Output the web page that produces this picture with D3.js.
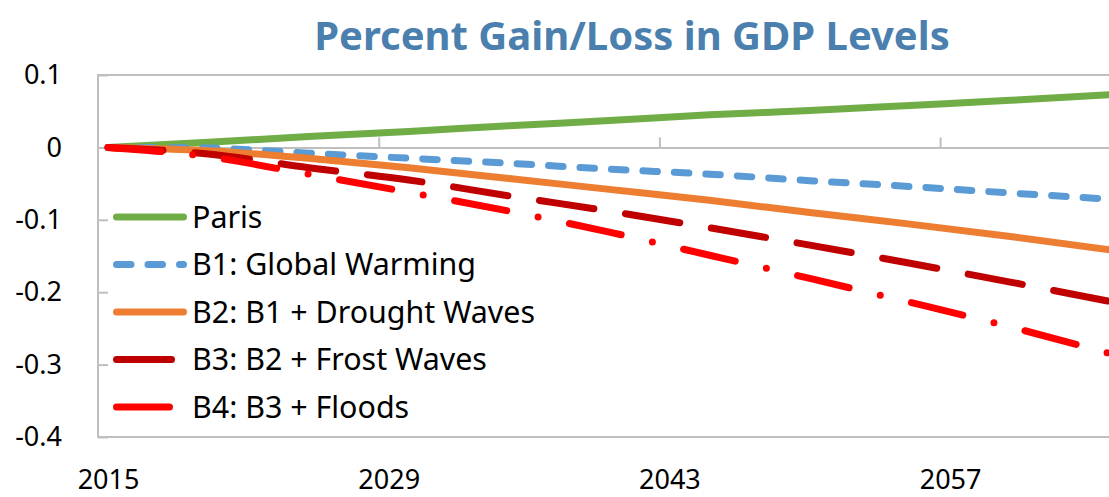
<!DOCTYPE html>
<html>
<head>
<meta charset="utf-8">
<script src="https://cdn.jsdelivr.net/npm/d3@7"></script>
<style>
  body { margin: 0; background: #fff; }
  text { font-family: "Noto Sans", "Open Sans", sans-serif; }
</style>
</head>
<body>
<svg id="chart" width="1109" height="497"></svg>
<script>
// values, every 5 years
const years = [2015, 2020, 2025, 2030, 2035, 2040, 2045, 2050, 2055, 2060, 2065];
const paris = [0, 0.007, 0.015, 0.022, 0.030, 0.037, 0.045, 0.051, 0.058, 0.065, 0.073];
const b1 = [0, -0.001, -0.008, -0.015, -0.022, -0.030, -0.037, -0.046, -0.054, -0.063, -0.0715];
const b2 = [0, -0.0045, -0.015, -0.028, -0.043, -0.058, -0.073, -0.090, -0.106, -0.123, -0.1416];
const b3 = [0, -0.009, -0.028, -0.045, -0.067, -0.088, -0.111, -0.135, -0.160, -0.186, -0.213];
const b4 = [0, -0.013, -0.037, -0.062, -0.088, -0.117, -0.149, -0.181, -0.214, -0.248, -0.285];

const seriesNames = ["Paris", "B1: Global Warming", "B2: B1 + Drought Waves", "B3: B2 + Frost Waves", "B4: B3 + Floods"];
const yTicks = [0.1, 0, -0.1, -0.2, -0.3, -0.4];
const xLabelYears = [2015, 2029, 2043, 2057];

const styles = [
  { color: "#70ad47", dash: null },
  { color: "#5b9bd5", dash: "14.5,17" },
  { color: "#ed7d31", dash: null },
  { color: "#c00000", dash: "55,32" },
  { color: "#ff0000", dash: "53,32,0,32" }
];
const series = [paris, b1, b2, b3, b4].map((vals, i) => ({
  name: seriesNames[i],
  style: styles[i],
  points: years.map((y, j) => ({ year: y, value: vals[j] }))
}));

const svg = d3.select("#chart");
const plotLeft = 98, plotTop = 75, plotBottom = 437;
const step = 20.05; // one category (year) wide
const firstYear = 2015, lastYear = 2065;

const x = d3.scaleLinear()
  .domain([firstYear - 0.5, lastYear + 0.5])
  .range([plotLeft, plotLeft + (lastYear - firstYear + 1) * step]);
const y = d3.scaleLinear().domain([-0.4, 0.1]).range([plotBottom, plotTop]);

const axisColor = "#bfbfbf";
const fmt = d => d === 0 ? "0" : String(+d.toFixed(1));

// plot border lines (top, left, bottom)
const plotRight = x.range()[1];
svg.append("path")
  .attr("d", `M${plotRight},${y(0.1)}H${plotLeft}V${y(-0.4)}H${plotRight}`)
  .attr("fill", "none")
  .attr("stroke", axisColor)
  .attr("stroke-width", 2);

// y axis, ticks inside
const yAxis = svg.append("g")
  .attr("transform", `translate(${plotLeft},0)`)
  .call(d3.axisLeft(y).tickValues(yTicks).tickSizeInner(-10).tickSizeOuter(0).tickPadding(36).tickFormat(fmt));
yAxis.select(".domain").remove();
yAxis.selectAll(".tick line").attr("stroke", axisColor).attr("stroke-width", 2);
yAxis.selectAll(".tick text").attr("font-size", 27).attr("fill", "#000");

// zero line with upward ticks at category boundaries
const boundaries = xLabelYears.slice(1).map(yr => yr - 0.5);
const zeroAxis = svg.append("g")
  .attr("transform", `translate(0,${y(0)})`)
  .call(d3.axisBottom(x).tickValues(boundaries).tickSizeInner(-10).tickSizeOuter(0).tickFormat(""));
zeroAxis.select(".domain").attr("stroke", axisColor).attr("stroke-width", 2);
zeroAxis.selectAll(".tick line").attr("stroke", axisColor).attr("stroke-width", 2);

// x labels at the bottom, centered on categories
const xLabels = svg.append("g")
  .attr("transform", `translate(0,${plotBottom})`)
  .call(d3.axisBottom(x).tickValues(xLabelYears).tickSize(0).tickPadding(33).tickFormat(d3.format("d")));
xLabels.select(".domain").remove();
xLabels.selectAll(".tick text").attr("font-size", 27).attr("fill", "#000");

// lines
const line = d3.line()
  .x(d => x(d.year))
  .y(d => y(d.value))
  .curve(d3.curveMonotoneX);

svg.append("g").selectAll("path")
  .data(series)
  .join("path")
    .attr("d", d => line(d.points))
    .attr("fill", "none")
    .attr("stroke", d => d.style.color)
    .attr("stroke-width", 7)
    .attr("stroke-linecap", "round")
    .attr("stroke-dasharray", d => d.style.dash);

// legend
const legend = svg.append("g").selectAll("g")
  .data(series)
  .join("g")
    .attr("transform", (d, i) => `translate(0,${217 + i * 47.5})`);
legend.append("line")
  .attr("x1", 116.5).attr("x2", 183.5)
  .attr("stroke", d => d.style.color)
  .attr("stroke-width", 7)
  .attr("stroke-linecap", "round")
  .attr("stroke-dasharray", d => d.style.dash);
legend.append("text")
  .attr("x", 192)
  .attr("dy", "0.35em")
  .attr("font-size", 30.4)
  .attr("fill", "#000")
  .text(d => d.name);

// title
svg.append("text")
  .attr("x", 632)
  .attr("y", 50)
  .attr("text-anchor", "middle")
  .attr("font-size", 40)
  .attr("font-weight", "bold")
  .attr("fill", "#4a7fae")
  .text("Percent Gain/Loss in GDP Levels");
</script>
</body>
</html>
